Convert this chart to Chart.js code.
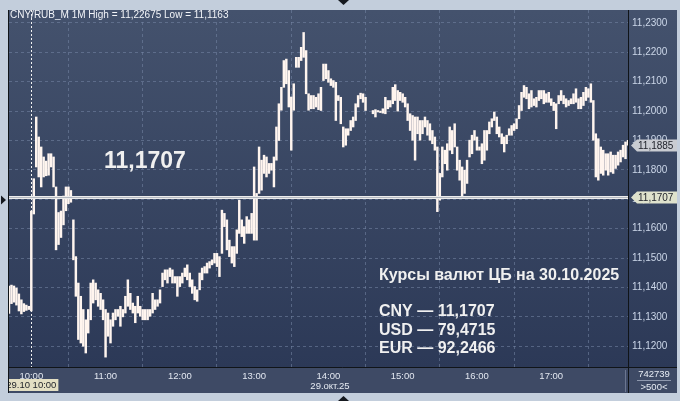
<!DOCTYPE html>
<html><head><meta charset="utf-8">
<script src="https://cdn.jsdelivr.net/npm/chart.js@4/dist/chart.umd.min.js"></script>
<style>html,body{margin:0;padding:0;background:#c3cedc;overflow:hidden}canvas{display:block}</style>
</head><body><canvas id="c" width="680" height="401"></canvas>
<script>
// ---- data (1-minute CNY/RUB bars, grouped by 2 minutes: low / high) ----
const times = [
"09:42","09:44","09:46","09:48","09:50","09:52","09:54","09:56","09:58",
"10:00","10:02","10:04","10:06","10:08","10:10","10:12","10:14","10:16","10:18","10:20","10:22","10:24","10:26","10:28","10:30","10:32","10:34","10:36","10:38","10:40","10:42","10:44","10:46","10:48","10:50","10:52","10:54","10:56","10:58",
"11:00","11:02","11:04","11:06","11:08","11:10","11:12","11:14","11:16","11:18","11:20","11:22","11:24","11:26","11:28","11:30","11:32","11:34","11:36","11:38","11:40","11:42","11:44","11:46","11:48","11:50","11:52","11:54","11:56","11:58",
"12:00","12:02","12:04","12:06","12:08","12:10","12:12","12:14","12:16","12:18","12:20","12:22","12:24","12:26","12:28","12:30","12:32","12:34","12:36","12:38","12:40","12:42","12:44","12:46","12:48","12:50","12:52","12:54","12:56","12:58",
"13:00","13:02","13:04","13:06","13:08","13:10","13:12","13:14","13:16","13:18","13:20","13:22","13:24","13:26","13:28","13:30","13:32","13:34","13:36","13:38","13:40","13:42","13:44","13:46","13:48","13:50","13:52","13:54","13:56","13:58",
"14:00","14:02","14:04","14:06","14:08","14:10","14:12","14:14","14:16","14:18","14:20","14:22","14:24","14:26","14:28","14:30","14:32","14:34","14:36","14:38","14:40","14:42","14:44","14:46","14:48","14:50","14:52","14:54","14:56","14:58",
"15:00","15:02","15:04","15:06","15:08","15:10","15:12","15:14","15:16","15:18","15:20","15:22","15:24","15:26","15:28","15:30","15:32","15:34","15:36","15:38","15:40","15:42","15:44","15:46","15:48","15:50","15:52","15:54","15:56","15:58",
"16:00","16:02","16:04","16:06","16:08","16:10","16:12","16:14","16:16","16:18","16:20","16:22","16:24","16:26","16:28","16:30","16:32","16:34","16:36","16:38","16:40","16:42","16:44","16:46","16:48","16:50","16:52","16:54","16:56","16:58",
"17:00","17:02","17:04","17:06","17:08","17:10","17:12","17:14","17:16","17:18","17:20","17:22","17:24","17:26","17:28","17:30","17:32","17:34","17:36","17:38","17:40","17:42","17:44","17:46","17:48","17:50","17:52","17:54","17:56","17:58",
"18:00","18:02"];
const lows = [
11.1312,11.1345,11.1350,11.1340,11.1320,11.1310,11.1318,11.1322,11.1325,
11.1320,11.1650,11.1810,11.1776,11.1742,11.1776,11.1780,11.1782,11.1810,11.1742,11.1528,11.1546,11.1570,11.1613,11.1661,11.1685,11.1690,11.1494,11.1370,11.1223,11.1211,11.1200,11.1177,11.1245,11.1290,11.1347,11.1358,11.1336,11.1325,11.1290,
11.1163,11.1234,11.1211,11.1268,11.1290,11.1302,11.1268,11.1300,11.1313,11.1336,11.1325,11.1313,11.1280,11.1313,11.1302,11.1290,11.1290,11.1290,11.1302,11.1313,11.1325,11.1336,11.1347,11.1403,11.1426,11.1415,11.1437,11.1415,11.1415,11.1370,
11.1403,11.1415,11.1437,11.1426,11.1403,11.1380,11.1358,11.1353,11.1392,11.1426,11.1449,11.1449,11.1466,11.1477,11.1483,11.1471,11.1437,11.1516,11.1607,11.1528,11.1505,11.1483,11.1471,11.1516,11.1584,11.1573,11.1550,11.1584,11.1584,11.1584,
11.1561,11.1561,11.1720,11.1731,11.1788,11.1776,11.1788,11.1799,11.1742,11.1833,11.1900,11.2003,11.2081,11.2093,11.2014,11.1867,11.2003,11.2149,11.2149,11.2172,11.2183,11.2059,11.2003,11.2008,11.2008,11.2014,11.2005,11.2002,11.2104,11.2110,
11.2098,11.2087,11.2081,11.1968,11.2036,11.1957,11.1878,11.1884,11.1918,11.1934,11.1946,11.1968,11.2014,11.2042,11.2030,11.2002,null,null,11.1991,11.1980,11.1997,11.1995,11.1993,11.1991,11.2008,11.2014,11.2025,11.2036,11.2000,11.2036,
11.2030,11.2014,11.1968,11.1934,11.1901,11.1833,11.1923,11.1901,11.1923,11.1946,11.1918,11.1901,11.1889,11.1867,11.1658,11.1697,11.1776,11.1821,11.1799,11.1867,11.1855,11.1878,11.1799,11.1765,11.1708,11.1720,11.1754,11.1844,11.1855,11.1901,
11.1867,11.1867,11.1821,11.1833,11.1867,11.1923,11.1946,11.1968,11.1923,11.1912,11.1889,11.1861,11.1889,11.1918,11.1918,11.1934,11.1940,11.1974,11.2002,11.2047,11.2042,11.2008,11.2014,11.2019,11.2014,11.2036,11.2042,11.2025,11.2030,11.2030,
11.2019,11.2002,11.1940,11.2025,11.2036,11.2025,11.2014,11.2019,11.2025,11.2025,11.2030,11.2008,11.2008,11.2019,11.2036,11.2047,11.2030,11.1901,11.1776,11.1765,11.1788,11.1782,11.1799,11.1782,11.1793,11.1788,11.1805,11.1816,11.1827,11.1844,
11.1838,11.1884];
const highs = [
11.1405,11.1408,11.1405,11.1398,11.1378,11.1358,11.1345,11.1340,11.1336,
11.1660,11.1770,11.1980,11.1912,11.1878,11.1844,11.1830,11.1855,11.1855,11.1844,11.1742,11.1655,11.1660,11.1711,11.1742,11.1742,11.1730,11.1630,11.1505,11.1415,11.1370,11.1325,11.1290,11.1325,11.1415,11.1426,11.1415,11.1392,11.1380,11.1358,
11.1325,11.1313,11.1290,11.1313,11.1325,11.1325,11.1336,11.1325,11.1370,11.1426,11.1380,11.1347,11.1336,11.1370,11.1336,11.1325,11.1325,11.1325,11.1325,11.1380,11.1358,11.1358,11.1392,11.1449,11.1460,11.1460,11.1466,11.1460,11.1437,11.1437,
11.1437,11.1449,11.1466,11.1477,11.1449,11.1426,11.1403,11.1392,11.1449,11.1466,11.1471,11.1483,11.1488,11.1494,11.1516,11.1516,11.1505,11.1663,11.1652,11.1630,11.1561,11.1539,11.1539,11.1596,11.1697,11.1630,11.1607,11.1641,11.1630,11.1652,
11.1810,11.1720,11.1878,11.1833,11.1850,11.1844,11.1822,11.1822,11.1844,11.1946,11.2025,11.2081,11.2172,11.2177,11.2138,11.2048,11.2093,11.2183,11.2183,11.2217,11.22675,11.2206,11.2059,11.2053,11.2053,11.2047,11.2059,11.2081,11.2160,11.2160,
11.2138,11.2110,11.2104,11.2098,11.2053,11.2047,11.1946,11.1940,11.1940,11.1968,11.1980,11.2025,11.2053,11.2061,11.2059,11.2047,null,null,11.2002,11.2005,11.2002,11.2000,11.2008,11.2047,11.2036,11.2036,11.2081,11.2090,11.2070,11.2064,
11.2059,11.2047,11.2025,11.1991,11.1985,11.1980,11.1980,11.1968,11.1968,11.1980,11.1968,11.1957,11.1934,11.1912,11.1878,11.1788,11.1878,11.1867,11.1889,11.1946,11.1934,11.1957,11.1878,11.1833,11.1810,11.1799,11.1833,11.1901,11.1918,11.1934,
11.1912,11.1878,11.1889,11.1934,11.1934,11.1963,11.1974,11.1997,11.1980,11.1946,11.1923,11.1912,11.1918,11.1940,11.1951,11.1957,11.1974,11.2019,11.2064,11.2087,11.2081,11.2059,11.2070,11.2042,11.2047,11.2070,11.2070,11.2070,11.2059,11.2064,
11.2042,11.2030,11.2025,11.2053,11.2070,11.2053,11.2042,11.2036,11.2042,11.2059,11.2076,11.2042,11.2047,11.2064,11.2081,11.2076,11.2093,11.2036,11.1923,11.1906,11.1878,11.1867,11.1855,11.1855,11.1861,11.1850,11.1850,11.1861,11.1867,11.1884,
11.1895,11.1901];
const yTickValues = [11.12,11.13,11.14,11.15,11.16,11.17,11.18,11.19,11.20,11.21,11.22,11.23];
const xTickTimes = ["10:00","11:00","12:00","13:00","14:00","15:00","16:00","17:00"];
const sessionStart = "10:00";
const cbRate = 11.1707;
const lastPrice = 11.1885;
const titleText = "CNY/RUB_M 1M High = 11,22675 Low = 11,1163";
const bigLabel = "11,1707";
const noteTitle = "Курсы валют ЦБ на 30.10.2025";
const noteLines = ["CNY — 11,1707", "USD — 79,4715", "EUR — 92,2466"];
const volumeText = "742739";
const rangeText = ">500<";
const cursorDate = "29.10 10:00";
const dayLabel = "29.окт.25";

// ---- helpers ----
const toMin = s => { const [h, m] = s.split(":").map(Number); return h * 60 + m - 600; };
const fmt = v => v.toFixed(4).replace(".", ",");
const bars = [];
times.forEach((t, i) => { if (lows[i] != null && highs[i] != null) bars.push({ x: toMin(t), y: [lows[i], highs[i]] }); });

const FONT = "'Liberation Sans', Arial, sans-serif";

const decor = {
  id: "decor",
  beforeDraw(chart) {
    const { ctx, chartArea: a } = chart;
    ctx.save();
    ctx.fillStyle = "#c3cedc";
    ctx.fillRect(0, 0, chart.width, chart.height);
    const g = ctx.createLinearGradient(0, a.top, 0, a.bottom);
    g.addColorStop(0, "#44526d");
    g.addColorStop(1, "#2c3957");
    ctx.fillStyle = g;
    ctx.fillRect(8, a.top, 677 - 8, a.bottom - a.top);
    ctx.fillStyle = "#3e4a65";
    ctx.fillRect(8, a.bottom, 677 - 8, 393 - a.bottom);
    ctx.restore();
  },
  beforeDatasetsDraw(chart) {
    const { ctx, chartArea: a, scales: { x } } = chart;
    ctx.save();
    const sx = Math.round(x.getPixelForValue(toMin(sessionStart))) + 0.5;
    ctx.strokeStyle = "#f2f2f2";
    ctx.setLineDash([2, 2]);
    ctx.lineWidth = 1;
    ctx.beginPath(); ctx.moveTo(sx, a.top); ctx.lineTo(sx, a.bottom); ctx.stroke();
    ctx.restore();
  },
  afterDraw(chart) {
    const { ctx, chartArea: a, scales: { x, y } } = chart;
    ctx.save();
    // frame lines
    ctx.strokeStyle = "#101418"; ctx.lineWidth = 1;
    ctx.beginPath();
    ctx.moveTo(8.5, a.top); ctx.lineTo(8.5, 393);
    ctx.moveTo(8, a.bottom - 0.5); ctx.lineTo(677, a.bottom - 0.5);
    ctx.moveTo(a.right + 0.5, a.top); ctx.lineTo(a.right + 0.5, 393);
    ctx.stroke();
    ctx.strokeStyle = "#6b7690";
    ctx.beginPath(); ctx.moveTo(a.right - 2.5, a.bottom + 2); ctx.lineTo(a.right - 2.5, 392); ctx.stroke();

    // CB rate line
    const ry = Math.round(y.getPixelForValue(cbRate));
    ctx.fillStyle = "#ececec";
    ctx.fillRect(a.left, ry - 1, a.right - a.left, 3);
    ctx.fillStyle = "#b4b8c0";
    ctx.fillRect(a.left, ry, a.right - a.left, 1);

    // text
    ctx.fillStyle = "#f2f4f8";
    ctx.font = "10px " + FONT;
    ctx.textBaseline = "alphabetic"; ctx.textAlign = "left";
    ctx.fillText(titleText, 10, 18);
    ctx.fillStyle = "#f0f0f0";
    ctx.font = "bold 23px " + FONT;
    ctx.fillText(bigLabel, 104, 168);
    ctx.font = "bold 16px " + FONT;
    ctx.fillText(noteTitle, 379, 280);
    noteLines.forEach((s, i) => ctx.fillText(s, 379, 316 + i * 18.6));

    // price tags
    const tag = (val, bg) => {
      const py = Math.round(y.getPixelForValue(val)) + 0.5;
      ctx.fillStyle = bg;
      ctx.beginPath();
      ctx.moveTo(a.right + 3, py);
      ctx.lineTo(a.right + 9, py - 6);
      ctx.lineTo(677, py - 6);
      ctx.lineTo(677, py + 6);
      ctx.lineTo(a.right + 9, py + 6);
      ctx.closePath(); ctx.fill();
      ctx.fillStyle = "#1d2028";
      ctx.font = "10px " + FONT;
      ctx.textBaseline = "middle";
      ctx.fillText(fmt(val), a.right + 10, py + 0.5);
    };
    tag(lastPrice, "#c9ccd2");
    tag(cbRate, "#dfe2cd");

    // bottom-left cursor date
    const cx = x.getPixelForValue(toMin(sessionStart));
    ctx.save();
    ctx.beginPath(); ctx.rect(9, 370, 300, 25); ctx.clip();
    ctx.font = "9.5px " + FONT;
    const w = ctx.measureText(cursorDate).width;
    ctx.fillStyle = "#e3dfc3";
    ctx.fillRect(cx - w / 2 - 2, 379, w + 4, 12);
    ctx.fillStyle = "#1d2028"; ctx.textAlign = "center"; ctx.textBaseline = "middle";
    ctx.fillText(cursorDate, cx, 385.5);
    ctx.restore();

    ctx.fillStyle = "#e6ebf3"; ctx.font = "9.5px " + FONT; ctx.textAlign = "center"; ctx.textBaseline = "middle";
    ctx.fillText(dayLabel, 330, 386);
    ctx.fillText(volumeText, 654, 374);
    ctx.fillText(rangeText, 654, 387);
    ctx.strokeStyle = "#8e98ad";
    ctx.beginPath(); ctx.moveTo(637, 380.5); ctx.lineTo(671, 380.5); ctx.stroke();

    // markers
    ctx.fillStyle = "#15191f";
    ctx.beginPath(); ctx.moveTo(338, 0); ctx.lineTo(349, 0); ctx.lineTo(343.5, 5); ctx.closePath(); ctx.fill();
    ctx.beginPath(); ctx.moveTo(338, 401); ctx.lineTo(349, 401); ctx.lineTo(343.5, 396); ctx.closePath(); ctx.fill();
    ctx.beginPath(); ctx.moveTo(1, 195.5); ctx.lineTo(1, 204.5); ctx.lineTo(6, 200); ctx.closePath(); ctx.fill();
    ctx.restore();
  }
};

new Chart(document.getElementById("c"), {
  type: "bar",
  data: { datasets: [{ data: bars, backgroundColor: "#fff5ef", borderWidth: 0, barThickness: 1.8 }] },
  options: {
    responsive: false, animation: false, events: [],
    layout: { padding: { left: 9, top: 8, right: 4, bottom: 8 } },
    plugins: { legend: { display: false }, tooltip: { enabled: false } },
    scales: {
      x: {
        type: "linear", min: -18, max: 482, offset: false,
        grid: { color: "rgba(118,134,166,0.55)", drawTicks: false, lineWidth: 1 },
        border: { display: false, dash: [3, 3] },
        afterBuildTicks: s => { s.ticks = xTickTimes.map(t => ({ value: toMin(t) })); },
        afterFit: s => { s.height = 25; },
        ticks: { callback: (v) => { const m = v + 600; return String(Math.floor(m / 60)).padStart(2, "0") + ":" + String(m % 60).padStart(2, "0"); },
                 color: "#e2e7f0", font: { size: 9.5, family: FONT }, padding: 3, maxRotation: 0, autoSkip: false }
      },
      y: {
        position: "right", min: 11.1126, max: 11.2344,
        grid: { color: "rgba(118,134,166,0.55)", drawTicks: false, lineWidth: 1 },
        border: { display: false, dash: [3, 3] },
        afterBuildTicks: s => { s.ticks = yTickValues.map(v => ({ value: v })); },
        afterFit: s => { s.width = 48; },
        ticks: { callback: v => fmt(v), color: "#cbd6e8", font: { size: 10, family: FONT }, padding: 4, autoSkip: false }
      }
    }
  },
  plugins: [decor]
});
</script>
</body></html>
